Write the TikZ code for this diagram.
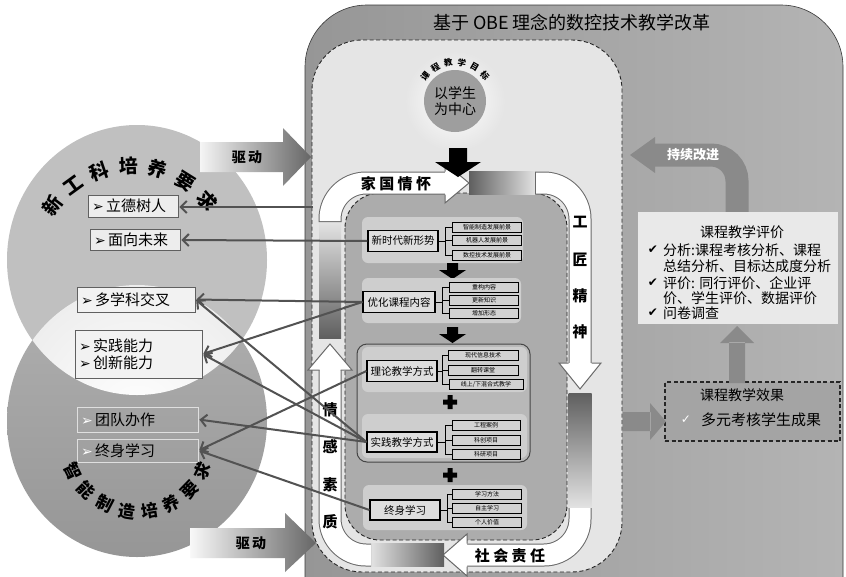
\documentclass[tikz,border=0pt]{standalone}
\usepackage{fontspec}
\setmainfont{Noto Sans CJK SC}
\newfontfamily\dejavu{DejaVu Sans}
\usetikzlibrary{arrows.meta}
\definecolor{outerL}{RGB}{150,150,150}
\definecolor{outerR}{RGB}{180,180,180}
\definecolor{innerl}{RGB}{229,229,229}
\definecolor{innerm}{RGB}{172,172,172}
\definecolor{panelc}{RGB}{206,206,206}
\definecolor{groupc}{RGB}{184,184,184}
\definecolor{mainc}{RGB}{222,222,222}
\definecolor{subc}{RGB}{210,210,210}
\definecolor{arrg}{RGB}{138,138,138}
\definecolor{linec}{RGB}{82,82,82}
\definecolor{bandl}{RGB}{105,105,105}
\definecolor{darkband}{RGB}{95,95,95}
\definecolor{lightband}{RGB}{228,228,228}
\definecolor{circtop}{RGB}{192,192,192}
\definecolor{circbotA}{RGB}{176,176,176}
\definecolor{circbotB}{RGB}{150,150,150}
\definecolor{lensc}{RGB}{238,238,238}
\definecolor{ctrc}{RGB}{158,158,158}
\definecolor{evalc}{RGB}{233,233,233}
\definecolor{effc}{RGB}{164,164,164}
\newcommand\fz[1]{\fontsize{#1}{#1}\selectfont}
\begin{document}
\begin{tikzpicture}[x=1pt,y=-1pt,
  mainbox/.style={draw=black, line width=1.1pt, fill=mainc, minimum width=70pt, minimum height=21pt, inner sep=0pt, font=\fz{10.5pt}},
  subbox/.style={draw=black, line width=0.8pt, fill=subc, minimum width=69pt, minimum height=10pt, inner sep=0pt, font=\fz{6pt}},
  brk/.style={draw=black, line width=0.8pt},
  leftbox/.style={draw=gray!75!black, line width=0.8pt, fill=white!90!gray, inner xsep=4pt, inner ysep=0pt, align=left, font=\fz{15pt}},
  faintbox/.style={draw=white!75!gray, line width=0.8pt, inner xsep=4pt, inner ysep=0pt, align=left, font=\fz{15pt}},
  conn/.style={draw=linec, line width=2pt, -{Straight Barb[length=6pt,width=12pt]}, shorten >=1pt},
  dashborder/.style={draw=black!85, line width=0.9pt, dash pattern=on 4pt off 2.5pt},
  bandout/.style={draw=bandl, line width=23pt},
  bandin/.style={draw=white, line width=21pt},
  headline/.style={draw=bandl, line width=1pt, line join=miter},
  ringtext/.style={font=\fz{15pt}\bfseries, inner sep=0pt},
  checkmark/.style={font=\dejavu\fz{12pt}, inner sep=0pt},
  evtext/.style={font=\fz{14pt}, inner sep=0pt, anchor=west}
]
\useasboundingbox (0,0) rectangle (846,576);
\fill[white] (0,0) rectangle (846,576);
\clip (0,0) rectangle (846,576);

% ---------- left circles ----------
\fill[circtop] (137,260) ellipse (130 and 135);
\shade[top color=circbotA, bottom color=circbotB] (137,421) ellipse (130 and 136);
\begin{scope}
  \clip (137,260) ellipse (130 and 135);
  \shade[inner color=white, outer color=lensc] (137,421) ellipse (130 and 136);
\end{scope}

% ---------- outer panel ----------
\shade[left color=outerL, right color=outerR, rounded corners=62] (305,5) rectangle (843,640);
\draw[gray!45!black, line width=0.6pt, rounded corners=62] (305,5) rectangle (843,640);
\node[font=\fz{18pt}, inner sep=0pt] (title) at (572,23) {基于 OBE 理念的数控技术教学改革};

% ---------- inner light panel ----------
\draw[dashborder, fill=innerl, rounded corners=50] (312,40) rectangle (622,572);
\shade[inner color=white, outer color=innerl] (455,101) circle (50);
\node[circle, fill=ctrc, minimum size=62pt, inner sep=0pt, align=center, font=\fontsize{14pt}{16pt}\selectfont] (ctr) at (455,101) {以学生\\为中心};
\foreach \ch [count=\i from 0] in {课,程,教,学,目,标}{
  \pgfmathsetmacro\ang{140-20*\i}
  \node[font=\fz{8.5pt}\bfseries, rotate=\ang-90, inner sep=0pt] (g\i) at ({455+39*cos(\ang)},{101-39*sin(\ang)}) {\ch};
}

% ---------- drive arrows ----------
\shade[left color=white!92!gray, right color=gray!80!black] (200,142) -- (283,142) -- (283,128) -- (311,157) -- (283,186) -- (283,172) -- (200,172) -- cycle;
\node[font=\fz{14pt}\bfseries, inner sep=0pt] (qd1) at (247,157) {驱\,动};
\shade[left color=white!95!gray, right color=gray!80!black] (190,528) -- (285,528) -- (285,513) -- (316,543) -- (285,572) -- (285,558) -- (190,558) -- cycle;
\node[font=\fz{14pt}\bfseries, inner sep=0pt] (qd2) at (251,543) {驱\,动};

% ---------- inner mid panel ----------
\draw[dashborder, fill=innerm, rounded corners=35] (345,193) rectangle (567,540);

% ---------- ring arrows ----------
\shade[top color=lightband, bottom color=darkband] (319,221) rectangle (341,338);
\draw[bandout] (330,222) [rounded corners=36] -- (330,183) -- (446,183);
\draw[bandin] (330,221) [rounded corners=36] -- (330,183) -- (446,183);
\fill[white] (445,163) -- (469,183) -- (445,203) -- cycle;
\draw[headline] (445,171.5) -- (445,163) -- (469,183) -- (445,203) -- (445,194.5);
\node[ringtext] (jg) at (396,184) {家 国 情 怀};
\shade[left color=darkband, right color=lightband] (469,171.5) rectangle (536,194.5);
\draw[bandout] (535,183) [rounded corners=36] -- (580,183) -- (580,364);
\draw[bandin] (536,183) [rounded corners=36] -- (580,183) -- (580,364);
\fill[white] (559,363) -- (580,389) -- (601,363) -- cycle;
\draw[headline] (568.5,363) -- (559,363) -- (580,389) -- (601,363) -- (591.5,363);
\foreach \ch/\yy [count=\i] in {工/222,匠/260,精/296,神/332}
  \node[ringtext] (gj\i) at (580,\yy) {\ch};
\shade[top color=darkband, bottom color=lightband] (568.5,393) rectangle (591.5,509);
\draw[bandout] (580,508) [rounded corners=36] -- (580,555) -- (466,555);
\draw[bandin] (580,508) [rounded corners=36] -- (580,555) -- (466,555);
\fill[white] (467,534) -- (443,555) -- (467,576) -- cycle;
\draw[headline] (467,543.5) -- (467,534) -- (443,555) -- (467,576) -- (467,566.5);
\node[ringtext] (sh) at (510,556) {社 会 责 任};
\shade[left color=lightband, right color=darkband] (370,543.5) rectangle (444,566.5);
\draw[bandout] (371,555) [rounded corners=36] -- (330,555) -- (330,369);
\draw[bandin] (371,555) [rounded corners=36] -- (330,555) -- (330,369);
\fill[white] (308,370) -- (330,344) -- (352,370) -- cycle;
\draw[headline] (319.5,370) -- (308,370) -- (330,344) -- (352,370) -- (340.5,370);
\foreach \ch/\yy [count=\i] in {情/410,感/447,素/485,质/522}
  \node[ringtext] (qg\i) at (330,\yy) {\ch};

\fill[black] (449,148) -- (467,148) -- (467,162) -- (481,162) -- (458,177) -- (435,162) -- (449,162) -- cycle;

% ---------- content panels ----------
\fill[panelc, rounded corners=6] (362,217) rectangle (523,263);
\node[mainbox] (m1) at (403,241) {新时代新形势};
\node[subbox] (s11) at (487,227) {智能制造发展前景};
\node[subbox] (s12) at (487,240.5) {机器人发展前景};
\node[subbox] (s13) at (487,255) {数控技术发展前景};
\coordinate (k1) at (445,241);
\draw[brk] (m1.east) -- (k1) (s11.west) -| (k1) (s12.west) -| (k1) (s13.west) -| (k1);
\fill[black] (447,263) -- (458,263) -- (458,270) -- (466,270) -- (452.5,279) -- (439,270) -- (447,270) -- cycle;
\fill[panelc, rounded corners=6] (362,278) rectangle (521,323);
\node[mainbox, minimum width=72pt] (m2) at (399,302) {优化课程内容};
\node[subbox] (s21) at (484,287) {重构内容};
\node[subbox] (s22) at (484,300) {更新知识};
\node[subbox] (s23) at (484,313) {增加形态};
\coordinate (k2) at (442,302);
\draw[brk] (m2.east) -- (k2) (s21.west) -| (k2) (s22.west) -| (k2) (s23.west) -| (k2);
\fill[black] (447,327) -- (458,327) -- (458,334) -- (466,334) -- (452.5,343) -- (439,334) -- (447,334) -- cycle;
\draw[draw=gray!55!black, line width=1pt, fill=groupc, rounded corners=10] (357,344) rectangle (530,462);
\fill[panelc, rounded corners=6] (362,347) rectangle (527,392);
\node[mainbox] (m3) at (402,371) {理论教学方式};
\node[subbox, minimum width=70pt] (s31) at (483,355.5) {现代信息技术};
\node[subbox, minimum width=70pt] (s32) at (483,370) {翻转课堂};
\node[subbox, minimum width=74pt] (s33) at (486,384.5) {线上/下混合式教学};
\coordinate (k3) at (442,371);
\draw[brk] (m3.east) -- (k3) (s31.west) -| (k3) (s32.west) -| (k3) (s33.west) -| (k3);
\fill[black] (443,399.5) rectangle (457,404.5) (447.5,395) rectangle (452.5,409);
\fill[panelc, rounded corners=6] (362,414) rectangle (527,458);
\node[mainbox, minimum height=20pt] (m4) at (402,442) {实践教学方式};
\node[subbox, minimum width=68pt] (s41) at (486,425) {工程案例};
\node[subbox, minimum width=68pt] (s42) at (486,440) {科创项目};
\node[subbox, minimum width=68pt] (s43) at (486,454) {科研项目};
\coordinate (k4) at (445,442);
\draw[brk] (m4.east) -- (k4) (s41.west) -| (k4) (s42.west) -| (k4) (s43.west) -| (k4);
\fill[black] (443,472.5) rectangle (457,477.5) (447.5,468) rectangle (452.5,482);
\fill[panelc, rounded corners=6] (363,485) rectangle (527,530);
\node[mainbox, minimum height=20pt] (m5) at (405,510) {终身学习};
\node[subbox] (s51) at (487,494) {学习方法};
\node[subbox] (s52) at (487,508) {自主学习};
\node[subbox] (s53) at (487,522) {个人价值};
\coordinate (k5) at (447,510);
\draw[brk] (m5.east) -- (k5) (s51.west) -| (k5) (s52.west) -| (k5) (s53.west) -| (k5);

% ---------- right side ----------
\draw[draw=arrg, line width=23pt] (737,214) [rounded corners=26] -- (737,155) -- (654,155);
\fill[arrg] (655,137) -- (630,155) -- (655,173) -- cycle;
\node[font=\fz{13pt}\bfseries, text=white, inner sep=0pt] (cx) at (693,155) {持续改进};
\node[fill=evalc, minimum width=200pt, minimum height=112pt, inner sep=0pt] (ev) at (738,268) {};
\node[font=\fz{14pt}, inner sep=0pt] (ev0) at (742,232) {课程教学评价};
\node[checkmark] (ck1) at (653,250) {✔};
\node[evtext] (ev1) at (663,250) {分析:课程考核分析、课程};
\node[evtext] (ev2) at (663,266.5) {总结分析、目标达成度分析};
\node[checkmark] (ck2) at (653,283) {✔};
\node[evtext] (ev3) at (663,283) {评价: 同行评价、企业评};
\node[evtext] (ev4) at (663,298.5) {价、学生评价、数据评价};
\node[checkmark] (ck3) at (653,313) {✔};
\node[evtext] (ev5) at (663,313) {问卷调查};
\node[dashborder, line width=1.3pt, fill=effc, minimum width=175pt, minimum height=59pt, inner sep=0pt] (eff) at (752.5,411.5) {};
\node[font=\fz{14pt}, inner sep=0pt] (eff0) at (742,395) {课程教学效果};
\node[checkmark, text=white] (ck4) at (686,420) {✓};
\node[font=\fz{15pt}, inner sep=0pt] (eff1) at (761,420) {多元考核学生成果};
\fill[arrg] (729,383) rectangle (745,342) (720,343) -- (754,343) -- (737,326) -- cycle;
\fill[arrg] (623,412) rectangle (651,431) (650,403) -- (666,421.5) -- (650,440) -- cycle;

% ---------- left boxes ----------
\node[leftbox, fill=white!86!gray, text width=82pt, minimum height=22pt] (b1) at (133,206) {{\dejavu\fz{14pt}➢}\,立德树人};
\node[leftbox, fill=white!86!gray, text width=82pt, minimum height=21pt] (b2) at (135,240) {{\dejavu\fz{14pt}➢}\,面向未来};
\node[leftbox, text width=110pt, minimum height=25pt] (b3) at (136,299.5) {{\dejavu\fz{14pt}➢}\,多学科交叉};
\node[leftbox, text width=119pt, minimum height=48pt, font=\fontsize{15pt}{17pt}\selectfont] (b4) at (138.5,354) {{\dejavu\fz{14pt}➢}\,实践能力\\{\dejavu\fz{14pt}➢}\,创新能力};
\node[faintbox, text width=113pt, minimum height=25pt] (b5) at (137.5,419.5) {{\dejavu\fz{14pt}\color{white}➢}\,团队办作};
\node[faintbox, text width=113pt, minimum height=23pt] (b6) at (137.5,450.5) {{\dejavu\fz{14pt}\color{white}➢}\,终身学习};

% curved titles on the circles
\foreach \ch [count=\i from 0] in {新,工,科,培,养,要,求}{
  \pgfmathsetmacro\ang{143-17*\i}
  \node[font=\fz{19pt}\bfseries, rotate=\ang-90, inner sep=0pt] (xa\i) at ({132+100*cos(\ang)},{266-100*sin(\ang)}) {\ch};
}
\foreach \ch [count=\i from 0] in {智,能,制,造,培,养,要,求}{
  \pgfmathsetmacro\ang{206+18.3*\i}
  \node[font=\fz{17pt}\bfseries, rotate=\ang+90, inner sep=0pt] (xb\i) at ({138+72*cos(\ang)},{440-72*sin(\ang)}) {\ch};
}

% ---------- connectors ----------
\coordinate (c1) at (313,207);
\draw[conn] (c1) -- (b1.east |- c1);
\draw[conn] (m1.west) -- (b2.east);
\draw[conn] (m2.west) -- (b3.east);
\draw[conn] (m2.west) -- (b4.east);
\draw[conn] (m4.west) -- (b3.east);
\draw[conn] (m4.west) -- (b4.east);
\draw[conn] (m4.west) -- (b5.east);
\draw[conn] (m3.west) -- (b6.east);
\draw[conn] (m5.west) -- (b6.east);
\end{tikzpicture}
\end{document}
